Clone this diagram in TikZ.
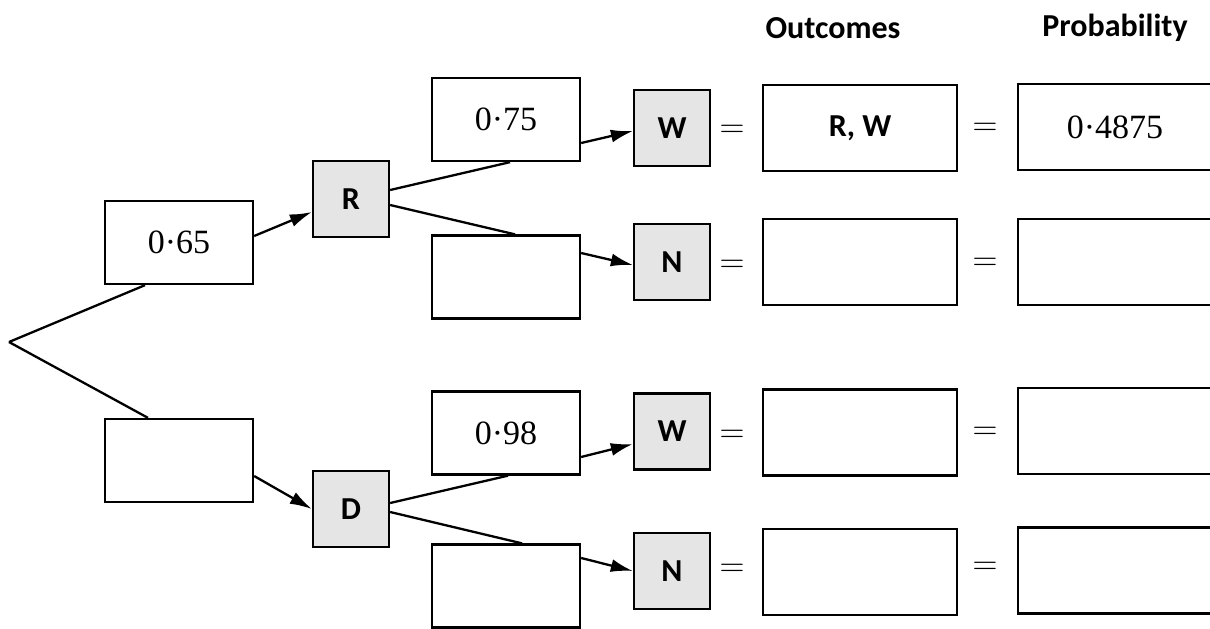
\documentclass[tikz,border=0pt]{standalone}
\usepackage{fontspec}
\setsansfont{Carlito}
\newfontfamily\numfont{Liberation Serif}
\usetikzlibrary{arrows.meta}
\tikzset{
  box/.style={draw, line width=1.15pt, fill=white, minimum width=74pt, minimum height=41.5pt, inner sep=0pt, font=\numfont\fontsize{17}{20}\selectfont},
  letter/.style={draw, line width=1.15pt, fill=black!10, minimum width=38pt, minimum height=38pt, inner sep=0pt, font=\sffamily\bfseries\fontsize{16}{19}\selectfont},
  resbox/.style={draw, line width=1.15pt, fill=white, minimum width=97pt, minimum height=43pt, inner sep=0pt},
  eq/.style={inner sep=0pt, font=\fontsize{16}{19}\selectfont},
  head/.style={inner sep=0pt, font=\sffamily\bfseries\fontsize{16}{19}\selectfont},
  branch/.style={line width=1.15pt},
  arr/.style={line width=1.15pt, -{Latex[length=11pt,width=6.5pt]}}
}
\begin{document}
\begin{tikzpicture}[x=0.5pt,y=-0.5pt]
\clip (0,0) rectangle (1210,628);
\fill[white] (0,0) rectangle (1210,628);
% headers
\node[head] (hout) at (833,28) {Outcomes};
\node[head] (hprob) at (1115,28) {Probability};
% origin
\coordinate (o) at (9,342);
% first stage
\node[box] (p1) at (179,242.5) {0·65};
\node[box] (p2) at (179,460.5) {};
\node[letter] (R) at (351,199) {R};
\node[letter] (D) at (351,509) {D};
% second stage
\node[box] (pRW) at (506,119.5) {0·75};
\node[box] (pRN) at (506,277) {};
\node[box] (pDW) at (506,433) {0·98};
\node[box] (pDN) at (506,586) {};
\node[letter] (W1) at (672,128) {W};
\node[letter] (N1) at (672,262) {N};
\node[letter] (W2) at (672,431.5) {W};
\node[letter] (N2) at (672,571) {N};
% equals and results
\node[eq] (e11) at (732,131) {$=$};
\node[eq] (e21) at (732,266) {$=$};
\node[eq] (e31) at (732,436) {$=$};
\node[eq] (e41) at (732,570) {$=$};
\node[eq] (e12) at (985,129) {$=$};
\node[eq] (e22) at (985,264) {$=$};
\node[eq] (e32) at (985,433) {$=$};
\node[eq] (e42) at (985,568) {$=$};
\node[resbox, font=\sffamily\bfseries\fontsize{16}{19}\selectfont] (o1) at (860,128) {R, W};
\node[resbox] (o2) at (860,262) {};
\node[resbox] (o3) at (860,432.5) {};
\node[resbox] (o4) at (860,572) {};
\node[resbox, font=\numfont\fontsize{17}{20}\selectfont] (q1) at (1115,127) {0·4875};
\node[resbox] (q2) at (1115,262) {};
\node[resbox] (q3) at (1115,431) {};
\node[resbox] (q4) at (1115,570.5) {};
% connectors
\draw[branch] (o) -- ([xshift=-17pt]p1.south);
\draw[branch] (o) -- ([xshift=-15.5pt]p2.north);
\draw[arr] ([yshift=3.25pt]p1.east) -- ([yshift=-6.5pt]R.west);
\draw[arr] ([yshift=-7.75pt]p2.east) -- (D.west);
\draw[branch] ([yshift=4.5pt]R.east) -- ([xshift=2pt]pRW.south);
\draw[branch] ([yshift=-3pt]R.east) -- ([xshift=4.5pt]pRN.north);
\draw[arr] ([yshift=-11.75pt]pRW.east) -- ([yshift=-1.5pt]W1.west);
\draw[arr] ([yshift=12pt]pRN.east) -- ([yshift=-1.5pt]N1.west);
\draw[branch] ([yshift=3pt]D.east) -- ([xshift=1pt]pDW.south);
\draw[branch] ([yshift=-1.5pt]D.east) -- ([xshift=8pt]pDN.north);
\draw[arr] ([yshift=-12pt]pDW.east) -- ([yshift=-6.25pt]W2.west);
\draw[arr] ([yshift=14pt]pDN.east) -- (N2.west);
\end{tikzpicture}
\end{document}
